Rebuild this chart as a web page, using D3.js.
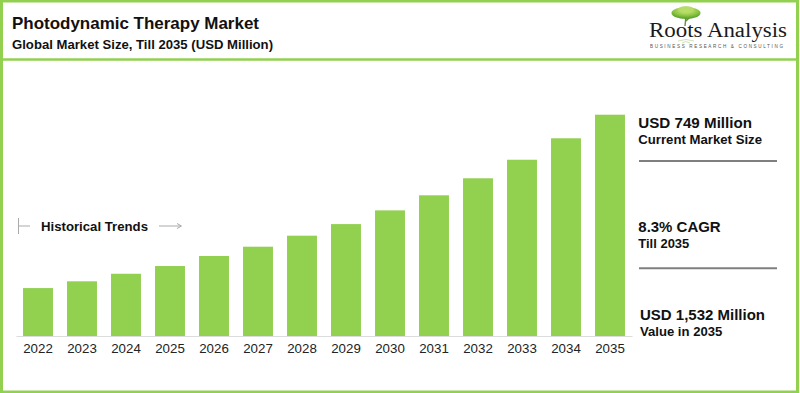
<!DOCTYPE html>
<html><head><meta charset="utf-8">
<script src="https://cdn.jsdelivr.net/npm/d3@7/dist/d3.min.js"></script>
<style>
html,body{margin:0;padding:0;background:#fff;}
svg{display:block;font-family:"Liberation Sans",Arial,sans-serif;}
</style></head>
<body>
<svg id="c" width="800" height="393"></svg>
<script>
const years = ["2022","2023","2024","2025","2026","2027","2028","2029","2030","2031","2032","2033","2034","2035"];
const values = [635,670,709,749,801,849,906,966,1037,1115,1203,1299,1410,1532];
const title = "Photodynamic Therapy Market";
const subtitle = "Global Market Size, Till 2035 (USD Million)";
const statHeads = ["USD 749 Million","8.3% CAGR","USD 1,532 Million"];
const statSubs = ["Current Market Size","Till 2035","Value in 2035"];

const svg = d3.select("#c");
const green = "#92d050";

function fitText(sel, len){ sel.attr("textLength",len).attr("lengthAdjust","spacingAndGlyphs"); return sel; }

// frame
svg.append("rect").attr("x",1.5).attr("y",1).attr("width",796).attr("height",391)
  .attr("fill","none").attr("stroke",green).attr("stroke-width",3);
svg.append("line").attr("x1",2).attr("x2",798).attr("y1",59.5).attr("y2",59.5)
  .attr("stroke",green).attr("stroke-width",2.5);

// titles
fitText(svg.append("text").attr("x",12).attr("y",29).text(title)
  .attr("font-size",16.5).attr("font-weight","bold").attr("fill","#111"),247);
fitText(svg.append("text").attr("x",12).attr("y",48.5).text(subtitle)
  .attr("font-size",13).attr("font-weight","bold").attr("fill","#111"),261);

// logo
const defs = svg.append("defs");
const lg = defs.append("radialGradient").attr("id","tree").attr("cx","50%").attr("cy","30%").attr("r","70%");
lg.append("stop").attr("offset","0%").attr("stop-color","#d7ec8a");
lg.append("stop").attr("offset","60%").attr("stop-color","#8cc63f");
lg.append("stop").attr("offset","100%").attr("stop-color","#4e9a2a");
const logo = svg.append("g");
logo.append("path").attr("d","M685,26 L686,16 L682,13 M686,17 L690,13 M686,21 L690,17")
  .attr("stroke","#6b8a3a").attr("stroke-width",1.4).attr("fill","none");
logo.append("ellipse").attr("cx",686).attr("cy",13).attr("rx",14.5).attr("ry",6).attr("fill","url(#tree)");
logo.append("ellipse").attr("cx",686).attr("cy",9.5).attr("rx",8).attr("ry",3.5).attr("fill","#b5dc66").attr("opacity",0.85);
logo.append("path").attr("d","M678,41 Q686,38 694,41 M682,43 Q686,40 690,43")
  .attr("stroke","#9bbf6a").attr("stroke-width",0.8).attr("fill","none").attr("opacity",0.6);
logo.append("text").attr("x",649).attr("y",37).text("Roots Analysis")
  .attr("font-family","'Liberation Serif','DejaVu Serif',serif").attr("font-size",20.5).attr("fill","#1a1a1a")
  .attr("textLength",138).attr("lengthAdjust","spacingAndGlyphs");
logo.append("text").attr("x",650).attr("y",48).text("BUSINESS RESEARCH & CONSULTING")
  .attr("font-size",4.6).attr("fill","#555").attr("textLength",133).attr("lengthAdjust","spacing");

// chart
const x = d3.scaleBand().domain(years).range([16,632]).paddingInner(0.32).paddingOuter(0.16);
const y = d3.scaleLinear().domain([387,1532]).range([336,114.7]);

svg.append("g").selectAll("rect").data(values).join("rect")
  .attr("x",(d,i)=>x(years[i]))
  .attr("width",x.bandwidth())
  .attr("y",d=>y(d))
  .attr("height",d=>336-y(d))
  .attr("fill",green);

const xAxis = svg.append("g").attr("transform","translate(0,336)")
  .call(d3.axisBottom(x).tickSize(0).tickPadding(8));
xAxis.select(".domain").attr("stroke","#dcdcdc").attr("stroke-width",1.2);
xAxis.selectAll("text").attr("font-size",13.3).attr("fill","#222")
  .attr("font-family","'Liberation Sans',Arial,sans-serif");

// historical trends
const ht = svg.append("g").attr("stroke","#aaa").attr("stroke-width",1);
ht.append("line").attr("x1",18.5).attr("x2",18.5).attr("y1",218).attr("y2",234);
ht.append("line").attr("x1",18.5).attr("x2",30).attr("y1",226).attr("y2",226);
ht.append("line").attr("x1",159).attr("x2",181).attr("y1",226).attr("y2",226);
ht.append("path").attr("d","M177,223.5 L181.5,226 L177,228.5").attr("fill","none");
fitText(svg.append("text").attr("x",41).attr("y",230.5).text("Historical Trends")
  .attr("font-size",13).attr("font-weight","bold").attr("fill","#111"),107);

// right panel
const sy = [128,231.7,320];
const sx = [638.3,638.3,640];
const headLen = [113.7,82.4,125];
const subLen = [123.7,51,82.3];
statHeads.forEach((h,i)=>{
  fitText(svg.append("text").attr("x",sx[i]).attr("y",sy[i]).text(h)
    .attr("font-size",15).attr("font-weight","bold").attr("fill","#111"),headLen[i]);
  fitText(svg.append("text").attr("x",sx[i]).attr("y",sy[i]+16.3).text(statSubs[i])
    .attr("font-size",13).attr("font-weight","bold").attr("fill","#111"),subLen[i]);
});
[161,268.3].forEach(v=>{
  svg.append("line").attr("x1",639).attr("x2",777).attr("y1",v).attr("y2",v)
    .attr("stroke","#7f7f7f").attr("stroke-width",2);
});
</script>
</body></html>
